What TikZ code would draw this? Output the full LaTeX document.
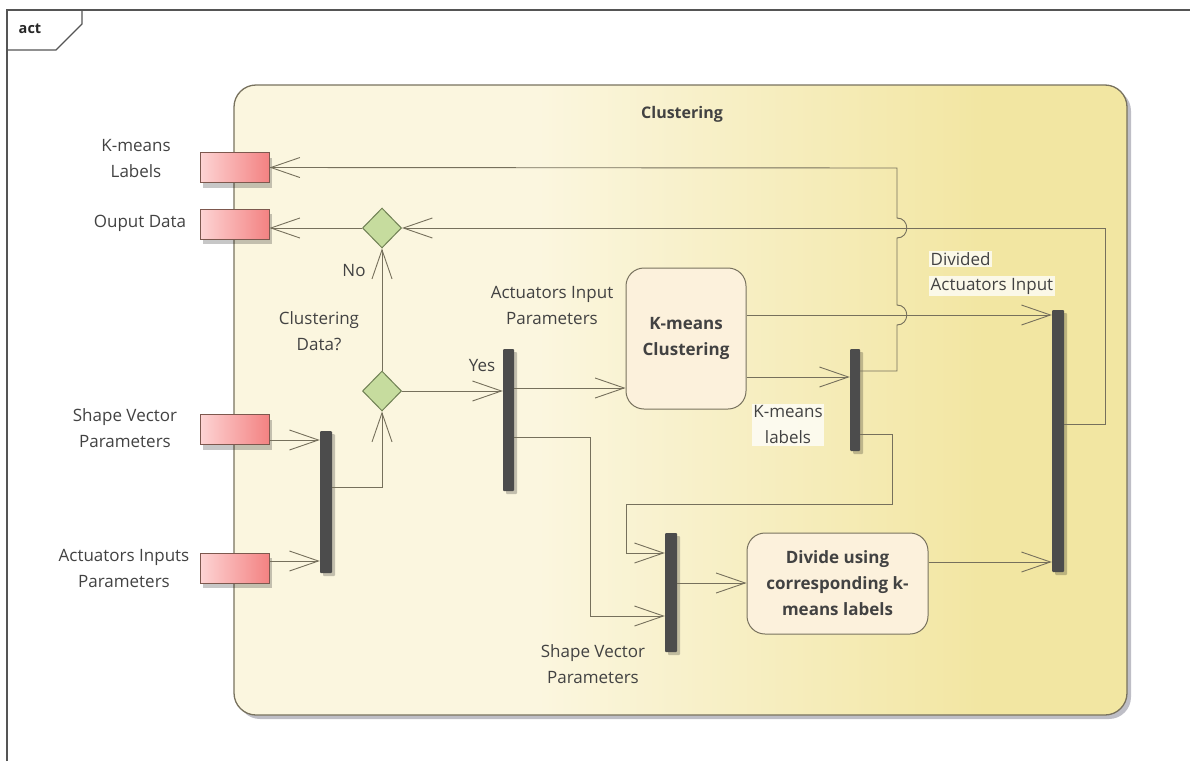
\documentclass[tikz,border=0pt]{standalone}
\usepackage{fontspec}
\setmainfont{Open Sans}
\usetikzlibrary{arrows.meta,shadows,shapes.geometric}

\definecolor{linec}{RGB}{118,112,92}
\definecolor{framec}{RGB}{85,85,85}
\definecolor{txt}{RGB}{66,66,66}
\definecolor{actL}{RGB}{251,246,223}
\definecolor{actR}{RGB}{242,230,162}
\definecolor{actB}{RGB}{120,114,94}
\definecolor{shadc}{RGB}{190,190,198}
\definecolor{pinL}{RGB}{253,212,212}
\definecolor{pinR}{RGB}{243,130,130}
\definecolor{pinB}{RGB}{125,88,78}
\definecolor{decF}{RGB}{198,220,158}
\definecolor{decB}{RGB}{112,128,84}
\definecolor{boxF}{RGB}{252,241,220}
\definecolor{barF}{RGB}{76,76,76}

% cream on the left, turning yellow towards the right
\pgfdeclarehorizontalshading{actshade}{100bp}{color(0bp)=(actL); color(25bp)=(actL); color(42bp)=(actL); color(67bp)=(actR); color(75bp)=(actR); color(100bp)=(actR)}

\tikzset{
  base/.style={text=txt, font=\fontsize{17}{26}\selectfont},
  lbl/.style={base, align=center, inner sep=1pt},
  hilite/.style={lbl, fill=white, fill opacity=0.75, text opacity=1, inner sep=1.5pt},
  activity/.style={draw=actB, line width=1.3pt, rounded corners=22pt, shading=actshade,
    minimum width=893pt, minimum height=630pt, inner sep=0pt,
    drop shadow={shadow xshift=4pt, shadow yshift=-4pt, fill=shadc, opacity=1}},
  pinbox/.style={draw=pinB, line width=1pt, left color=pinL, right color=pinR,
    minimum width=69pt, minimum height=30pt, inner sep=0pt,
    drop shadow={shadow xshift=3pt, shadow yshift=-5pt, fill=black, opacity=0.22}},
  bar/.style={fill=barF, draw=none, minimum width=11pt, inner sep=0pt, rounded corners=1pt,
    drop shadow={shadow xshift=3pt, shadow yshift=-3pt, fill=black, opacity=0.22}},
  decision/.style={diamond, aspect=1, draw=decB, line width=1pt, fill=decF,
    minimum width=39pt, minimum height=40pt, inner sep=0pt},
  action/.style={draw=actB, line width=1pt, fill=boxF, rounded corners=18pt, align=center,
    inner sep=0pt, text=txt, font=\fontsize{17}{26}\selectfont\bfseries},
  flow/.style={draw=linec, line width=0.9pt,
    -{Straight Barb[length=29pt, width=20pt, line width=0.9pt]}},
  plainflow/.style={draw=linec, line width=0.9pt}
}

\begin{document}
\begin{tikzpicture}[x=1pt,y=-1pt]
\useasboundingbox (0,0) rectangle (1190,763);

% diagram frame with its name tab
\draw[framec, line width=1.4pt] (7,761) -- (7,10) -- (1190,10);
\draw[framec, line width=1.4pt] (7,50) -- (56,50) -- (82,24) -- (82,10);
\node[base, font=\fontsize{14.5}{16}\selectfont\bfseries, text=black!85] (tab) at (30,29) {act};

% activity container
\node[activity] (actv) at (680.5,400) {};
\node[base, font=\fontsize{16}{20}\selectfont\bfseries] (ttl) at (682,114) {Clustering};

% parameter pins on the activity border
\node[pinbox] (pKL) at (234.5,167.5) {};
\node[pinbox] (pOD) at (234.5,224) {};
\node[pinbox] (pSV) at (234.5,429.5) {};
\node[pinbox] (pAI) at (234.5,568) {};

\node[lbl] (tKL) at (136,159) {K-means\\Labels};
\node[lbl] (tOD) at (140,223) {Ouput Data};
\node[lbl] (tSV) at (125,428) {Shape Vector\\Parameters};
\node[lbl] (tAI) at (124,568) {Actuators Inputs\\Parameters};

% decisions
\node[decision] (dTop) at (382,228) {};
\node[decision] (dBot) at (382,391) {};

% fork / join bars
\node[bar, minimum width=12pt, minimum height=142pt] (bar1) at (326,502) {};
\node[bar, minimum height=142pt] (bar2) at (508.5,420) {};
\node[bar, minimum width=10pt, minimum height=102pt] (bar3) at (855,400) {};
\node[bar, minimum width=12pt, minimum height=119pt] (bar4) at (671,592.5) {};
\node[bar, minimum width=12pt, minimum height=262pt] (bar5) at (1058,441) {};

% actions
\node[action, minimum width=120pt, minimum height=141pt] (kmc) at (686,338.5) {K-means\\Clustering};
\node[action, minimum width=181pt, minimum height=101pt] (div) at (837.5,583.5) {Divide using\\corresponding k-\\means labels};

% bend points
\coordinate (rtop) at (1105,228);
\coordinate (s1) at (590,616);
\coordinate (k1) at (892,504);
\coordinate (k2) at (626,553);

% flows
\draw[flow] (pSV.east |- 0,440) -- (bar1.west |- 0,440);
\draw[flow] (pAI.east |- 0,561) -- (bar1.west |- 0,561);
\draw[flow] (bar1.east |- 0,487) -| (dBot.south);
\draw[flow] (dBot.east) -- (bar2.west |- dBot.east);
\draw[flow] (dBot.north) -- (dTop.south);
\draw[flow] (dTop.west) -- (pOD.east |- dTop.west);
\draw[flow] (bar5.east |- 0,424) -| (rtop) -- (dTop.east);
\draw[flow] (bar3.east |- 0,371) -- (897,371) -- (897,325)
  .. controls (910,325) and (910,305) .. (897,305) -- (897,238)
  .. controls (910,238) and (910,218) .. (897,218) -- (897,168) -- (pKL.east);
\draw[flow] (kmc.east |- 0,315) -- (bar5.west |- 0,315);
\draw[flow] (kmc.east |- 0,377) -- (bar3.west |- 0,377);
\draw[flow] (bar2.east |- 0,388) -- (kmc.west |- 0,388);
\draw[flow] (bar2.east |- 0,437) -| (s1) -- (bar4.west |- s1);
\draw[flow] (bar3.east |- 0,434) -| (k1) -| (k2) -- (bar4.west |- k2);
\draw[flow] (bar4.east |- 0,583) -- (div.west |- 0,583);
\draw[flow] (div.east |- 0,562) -- (bar5.west |- 0,562);

% flow labels
\node[lbl] (lYes) at (482,366) {Yes};
\node[lbl] (lNo) at (354,271) {No};
\node[lbl] (lCD) at (319,331) {Clustering\\Data?};
\node[lbl] (lAIP) at (552,305) {Actuators Input\\Parameters};
\node[hilite] (lKL) at (788,425) {K-means\\labels};
\node[hilite, anchor=west] (lDA1) at (929,259) {Divided};
\node[hilite, anchor=west] (lDA2) at (929,286) {Actuators Input};
\node[lbl] (lSVP) at (593,664) {Shape Vector\\Parameters};
\end{tikzpicture}
\end{document}
